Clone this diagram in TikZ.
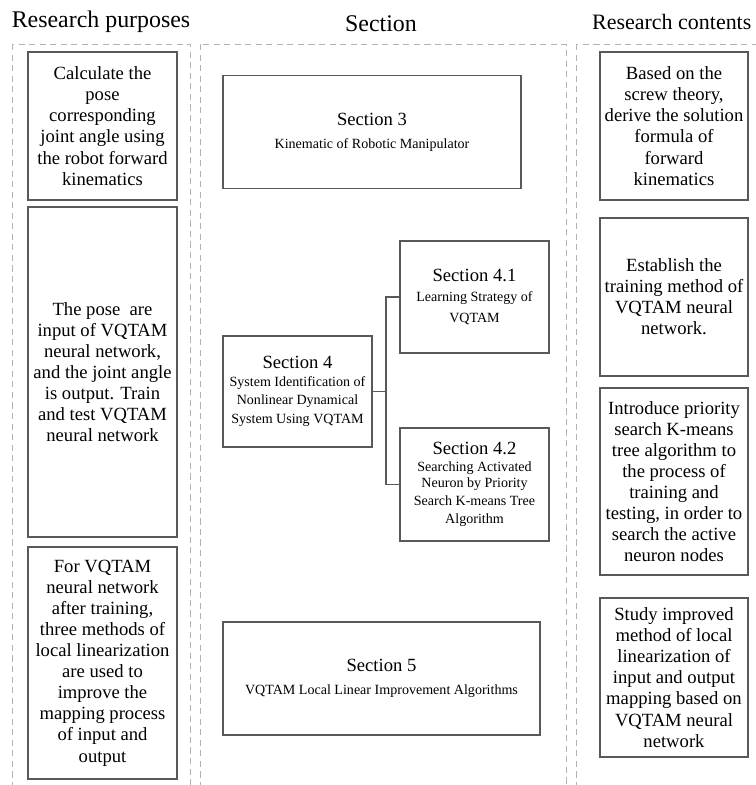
\documentclass[tikz,border=0pt]{standalone}
\usepackage{fontspec}
\setmainfont{Liberation Serif}
\usepackage{tikz}

\newcommand{\subt}[1]{{\fontsize{8}{10}\selectfont #1}}

\tikzset{
  colframe/.style={draw=black!30, dash pattern=on 3.5pt off 2.5pt, line width=0.5pt},
  coltitle/.style={font=\fontsize{13.6}{15}\selectfont},
  textbox/.style={draw=black!65, line width=0.7pt, align=center, inner sep=0pt,
    font=\fontsize{10.6}{12}\selectfont},
  link/.style={draw=black!65, line width=0.7pt}
}

\begin{document}
\begin{tikzpicture}[x=0.02cm, y=-0.02cm]
  \useasboundingbox (0,0) rectangle (756,785);
  \clip (0,0) rectangle (756,785);

  % column frames and titles
  \draw[colframe] (12,44) rectangle (190,800);
  \draw[colframe] (200,44) rectangle (566,800);
  \draw[colframe] (576,44) rectangle (770,800);
  \node[coltitle] (ptitle) at (101,22) {Research purposes};
  \node[coltitle] (stitle) at (381,24) {Section};
  \node[coltitle, anchor=west, font=\fontsize{12.5}{15}\selectfont] (ctitle) at (586,22) {Research contents};

  % research purposes
  \node[textbox, minimum width=2.98cm, minimum height=2.96cm] (purpose1) at (102.5,126)
    {Calculate the\\ pose\\ corresponding\\ joint angle using\\ the robot forward\\ kinematics};
  \node[textbox, minimum width=2.98cm, minimum height=6.6cm] (purpose2) at (102.5,372)
    {The pose\ \ are\\ input of VQTAM\\ neural network,\\ and the joint angle\\ is output. Train\\ and test VQTAM\\ neural network};
  \node[textbox, minimum width=2.98cm, minimum height=4.64cm] (purpose3) at (102.5,663)
    {For VQTAM\\ neural network\\ after training,\\ three methods of\\ local linearization\\ are used to\\ improve the\\ mapping process\\ of input and\\ output};

  % sections
  \node[textbox, minimum width=5.96cm, minimum height=2.26cm] (sec3) at (372,132)
    {Section 3\\[1pt] \subt{Kinematic of Robotic Manipulator}};
  \node[textbox, minimum width=2.98cm, minimum height=2.22cm] (sec4) at (297.5,391.5)
    {Section 4\\[-2pt] \subt{System Identification of}\\[-2pt] \subt{Nonlinear Dynamical}\\[-1pt] \subt{System Using VQTAM}};
  \node[textbox, minimum width=2.98cm, minimum height=2.24cm] (sec41) at (474.5,297)
    {Section 4.1\\[-1pt] \subt{Learning Strategy of}\\ \subt{VQTAM}};
  \node[textbox, minimum width=2.98cm, minimum height=2.26cm] (sec42) at (474.5,484.5)
    {Section 4.2\\[-2.5pt] \subt{Searching Activated}\\[-2.5pt] \subt{Neuron by Priority}\\[-2pt] \subt{Search K-means Tree}\\[-1.5pt] \subt{Algorithm}};
  \node[textbox, minimum width=6.34cm, minimum height=2.26cm] (sec5) at (381.5,678.5)
    {Section 5\\[1pt] \subt{VQTAM Local Linear Improvement Algorithms}};

  \coordinate (split) at (386,391.5);
  \draw[link] (sec4.east) -- (split) |- (sec41.west);
  \draw[link] (split) |- (sec42.west);

  % research contents
  \node[textbox, minimum width=2.96cm, minimum height=2.96cm] (content1) at (674,126)
    {Based on the\\ screw theory,\\ derive the solution\\ formula of\\ forward\\ kinematics};
  \node[textbox, minimum width=2.96cm, minimum height=3.16cm] (content2) at (674,297)
    {Establish the\\ training method of\\ VQTAM neural\\ network.};
  \node[textbox, minimum width=2.96cm, minimum height=3.74cm] (content3) at (674,481.5)
    {Introduce priority\\ search K-means\\ tree algorithm to\\ the process of\\ training and\\ testing, in order to\\ search the active\\ neuron nodes};
  \node[textbox, minimum width=2.96cm, minimum height=3.18cm] (content4) at (674,677.5)
    {Study improved\\ method of local\\ linearization of\\ input and output\\ mapping based on\\ VQTAM neural\\ network};
\end{tikzpicture}
\end{document}
